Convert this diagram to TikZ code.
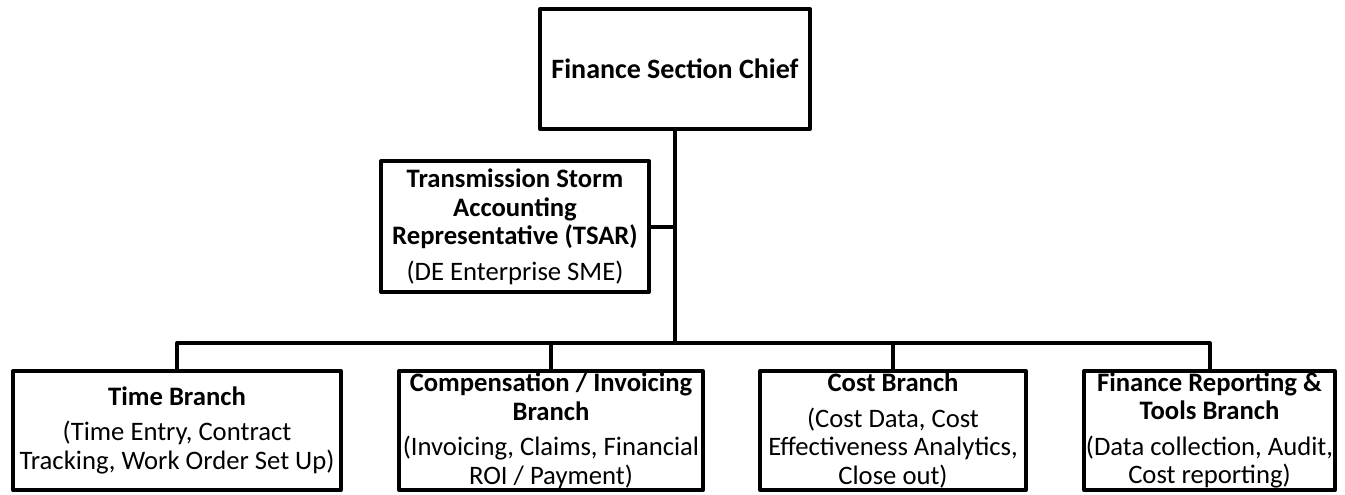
\documentclass[tikz,border=0pt]{standalone}
\usepackage{fontspec}
\setmainfont{Carlito}
\tikzset{every picture/.style={line width=3pt}}
\tikzset{
  orgbox/.style={draw, line join=round, align=center, inner sep=0pt,
    font=\fontsize{20}{21.5}\selectfont},
  branchbox/.style={orgbox, minimum width=#1, minimum height=89.25pt}
}

\begin{document}
\begin{tikzpicture}[x=0.75pt,y=0.75pt,yscale=-1,xscale=1]
\useasboundingbox (0,0) rectangle (1345,494);

% Chief
\node [orgbox, minimum width=202.5pt, minimum height=90pt, font=\fontsize{21}{22}\selectfont] (chief) at (675,69) {\textbf{Finance Section Chief}};
% TSAR
\node [orgbox, minimum width=201pt, minimum height=98.25pt] (tsar) at (515,226.5)
  {\textbf{Transmission Storm}\\\textbf{Accounting}\\\textbf{Representative (TSAR)}\\[5pt](DE Enterprise SME)};

% Branches
\node [branchbox=246pt] (time) at (177,430.5)
  {\textbf{Time Branch}\\[5pt](Time Entry, Contract\\Tracking, Work Order Set Up)};
\node [branchbox=228pt] (comp) at (551,430.5)
  {\textbf{Compensation / Invoicing}\\\textbf{Branch}\\[5pt](Invoicing, Claims, Financial\\ROI / Payment)};
\node [branchbox=199.5pt] (cost) at (893,430.5)
  {\textbf{Cost Branch}\\[5pt](Cost Data, Cost\\Effectiveness Analytics,\\Close out)};
\node [branchbox=188.25pt] (rep) at (1209.5,430.5)
  {\textbf{Finance Reporting \&}\\\textbf{Tools Branch}\\[5pt](Data collection, Audit,\\Cost reporting)};

\coordinate (bus) at (675,343);

% Lines
\draw (chief.south) -- (chief.south |- bus);
\draw (tsar.east) -- (tsar.east -| chief.south);
\draw [line join=round] (time.north) -- (time.north |- bus) -| (rep.north);
\draw (comp.north) -- (comp.north |- bus);
\draw (cost.north) -- (cost.north |- bus);

\end{tikzpicture}
\end{document}
